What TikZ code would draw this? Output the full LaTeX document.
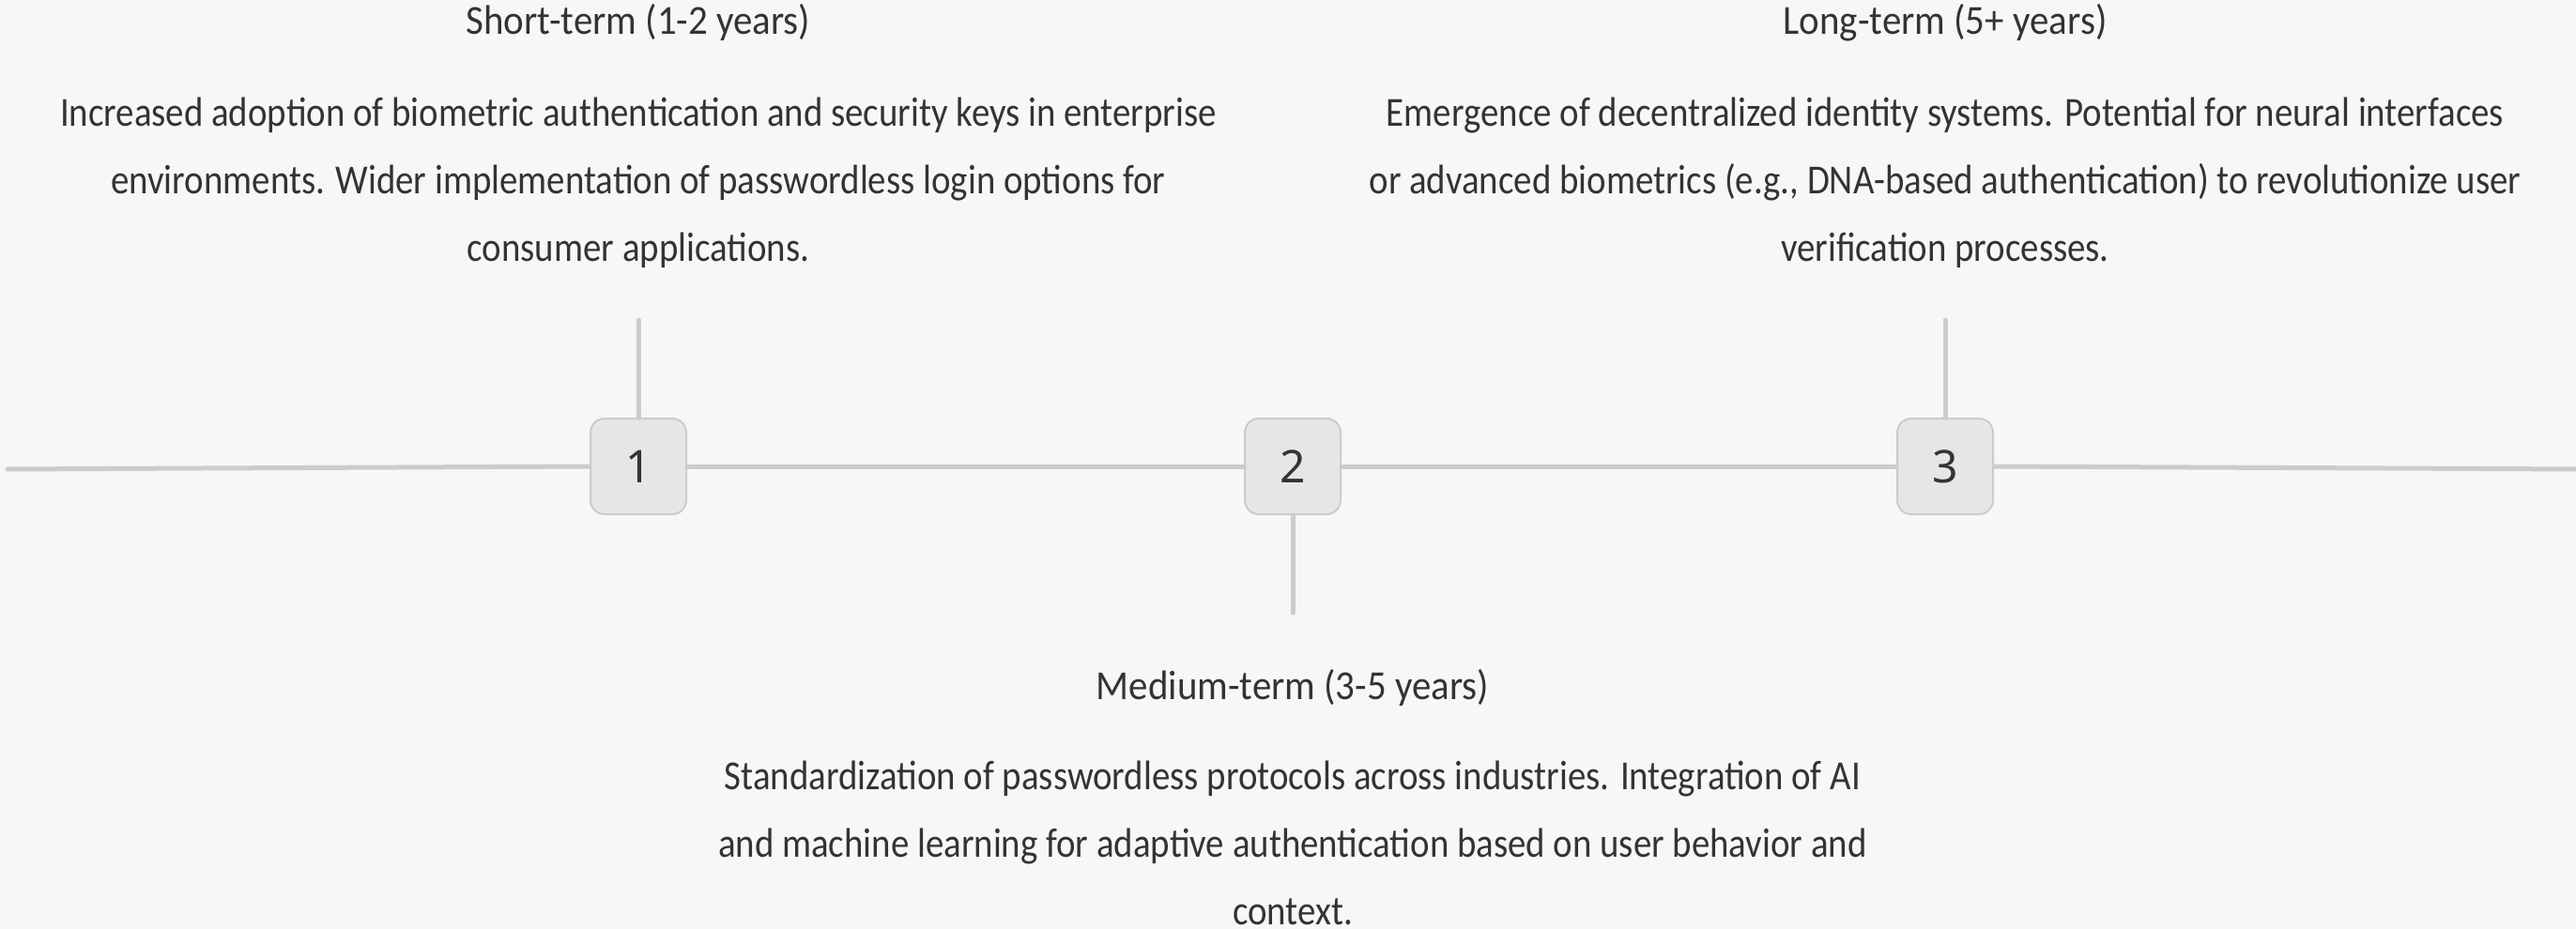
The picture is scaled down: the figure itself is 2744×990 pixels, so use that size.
\documentclass[tikz,border=0pt]{standalone}
\usepackage{fontspec}
\setmainfont[FakeStretch=0.883]{Carlito}
\newfontfamily\titlefont[FakeStretch=0.93]{Carlito}
\newfontfamily\numfont{Noto Sans}
\definecolor{bgc}{HTML}{F7F7F7}
\definecolor{linec}{HTML}{CCCCCC}
\definecolor{boxc}{HTML}{E6E6E6}
\definecolor{txtc}{HTML}{333333}
\tikzset{
  stepbox/.style={draw=linec, line width=2, fill=boxc, rounded corners=15,
    minimum width=102, minimum height=102, inner sep=0, text=txtc,
    font=\numfont\fontsize{48}{58}\selectfont},
  tline/.style={draw=linec, line width=5, line cap=round},
  ttext/.style={text=txtc, font=\fontsize{44}{72}\selectfont, align=center, anchor=base, inner sep=0},
  ttitle/.style={text=txtc, font=\titlefont\fontsize{44}{72}\selectfont, anchor=base, inner sep=0}
}
\begin{document}
\begin{tikzpicture}[x=1pt,y=-1pt]
\fill[bgc] (0,0) rectangle (2744,990);
\useasboundingbox (0,0) rectangle (2744,990);
\coordinate (lL) at (8,500);
\coordinate (lR) at (2750,500);
\node[stepbox] (b1) at (680,497) {1};
\node[stepbox] (b2) at (1377,497) {2};
\node[stepbox] (b3) at (2072,497) {3};
\coordinate (t1) at (680,341);
\coordinate (t2) at (1377,653);
\coordinate (t3) at (2072,341);
\draw[tline] (lL) -- (b1.west);
\draw[tline] (b1.east) -- (b2.west);
\draw[tline] (b2.east) -- (b3.west);
\draw[tline] (b3.east) -- (lR);
\draw[tline] (b1.north) -- (t1);
\draw[tline] (b2.south) -- (t2);
\draw[tline] (b3.north) -- (t3);
\node[ttitle] (h1) at (680,37) {Short-term (1-2 years)};
\node[ttext] (d1) at (680,278) {Increased adoption of biometric authentication and security keys in enterprise\\environments. Wider implementation of passwordless login options for\\consumer applications.};
\node[ttitle] (h2) at (1377,745) {Medium-term (3-5 years)};
\node[ttext] (d2) at (1377,985) {Standardization of passwordless protocols across industries. Integration of AI\\and machine learning for adaptive authentication based on user behavior and\\context.};
\node[ttitle] (h3) at (2072,37) {Long-term (5+ years)};
\node[ttext] (d3) at (2072,278) {Emergence of decentralized identity systems. Potential for neural interfaces\\or advanced biometrics (e.g., DNA-based authentication) to revolutionize user\\verification processes.};
\end{tikzpicture}
\end{document}
